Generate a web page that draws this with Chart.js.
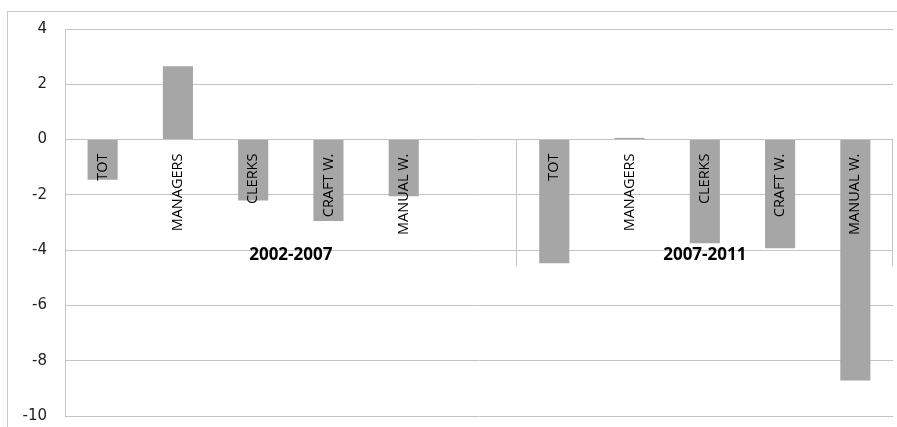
<!DOCTYPE html>
<html>
<head>
<meta charset="utf-8">
<script src="https://cdn.jsdelivr.net/npm/chart.js@4/dist/chart.umd.min.js"></script>
<style>
  html, body { margin: 0; padding: 0; background: #fff; overflow: hidden; }
  canvas { display: block; }
</style>
</head>
<body>
<canvas id="barChart" width="897" height="427"></canvas>
<script>
// categories (6th slot of the first period is empty in the original)
var categories = ['TOT', 'MANAGERS', 'CLERKS', 'CRAFT W.', 'MANUAL W.', '',
                  'TOT', 'MANAGERS', 'CLERKS', 'CRAFT W.', 'MANUAL W.'];
var values = [-1.45, 2.65, -2.2, -2.95, -2.05, null,
              -4.47, 0.06, -3.75, -3.93, -8.72];
var groups = ['2002-2007', '2007-2011'];
var groupSizes = [6, 5];
var yTicks = [4, 2, 0, -2, -4, -6, -8, -10];

var gridColor = '#c4c4c4';

// frame, rotated category labels, period labels and separators
var excelAxis = {
    id: 'excelAxis',
    beforeDraw: function (chart) {
        var c = chart.ctx;
        c.save();
        c.strokeStyle = '#c8c8c8';
        c.lineWidth = 1;
        c.strokeRect(7.5, 11.5, 1000, 1000);
        c.restore();
    },
    afterDraw: function (chart) {
        var c = chart.ctx, x = chart.scales.x, y = chart.scales.y;
        var zero = y.getPixelForValue(0);
        c.save();
        c.fillStyle = '#000';
        c.font = '14.5px "Open Sans", sans-serif';
        c.textAlign = 'right';
        c.textBaseline = 'middle';
        categories.forEach(function (lab, i) {
            if (!lab) return;
            c.save();
            c.translate(x.getPixelForValue(i), zero + 14);
            c.rotate(-Math.PI / 2);
            c.fillText(lab, 0, 0);
            c.restore();
        });
        // period labels + separators
        c.font = 'bold 17px "Open Sans", sans-serif';
        c.textAlign = 'center';
        c.strokeStyle = gridColor;
        var start = 0;
        groups.forEach(function (g, k) {
            var end = start + groupSizes[k] - 1;
            var half = (x.getPixelForValue(1) - x.getPixelForValue(0)) / 2;
            var left = x.getPixelForValue(start) - half;
            var right = x.getPixelForValue(end) + half;
            c.fillText(g, (left + right) / 2, zero + 116);
            var sx = Math.round(right) - 0.5;
            c.beginPath();
            c.moveTo(sx, zero);
            c.lineTo(sx, zero + 126);
            c.stroke();
            start = end + 1;
        });
        c.restore();
    }
};

new Chart(document.getElementById('barChart'), {
    type: 'bar',
    data: {
        labels: categories,
        datasets: [{
            data: values,
            backgroundColor: '#a6a6a6',
            borderWidth: 0,
            barPercentage: 0.4,
            categoryPercentage: 1
        }]
    },
    options: {
        responsive: false,
        animation: false,
        layout: { padding: { left: 7, top: 29, right: 4, bottom: 11 } },
        plugins: { legend: { display: false }, tooltip: { enabled: false } },
        scales: {
            x: { display: false },
            y: {
                min: yTicks[yTicks.length - 1],
                max: yTicks[0],
                afterBuildTicks: function (s) {
                    s.ticks = yTicks.map(function (v) { return { value: v }; });
                },
                afterFit: function (s) {
                    s.width = 58;
                    s.paddingTop = 0;
                    s.paddingBottom = 0;
                },
                grid: { color: gridColor, drawTicks: false },
                border: { color: gridColor },
                ticks: {
                    color: '#222',
                    padding: 18,
                    font: { family: '"DejaVu Sans", sans-serif', size: 15 }
                }
            }
        }
    },
    plugins: [excelAxis]
});
</script>
</body>
</html>
